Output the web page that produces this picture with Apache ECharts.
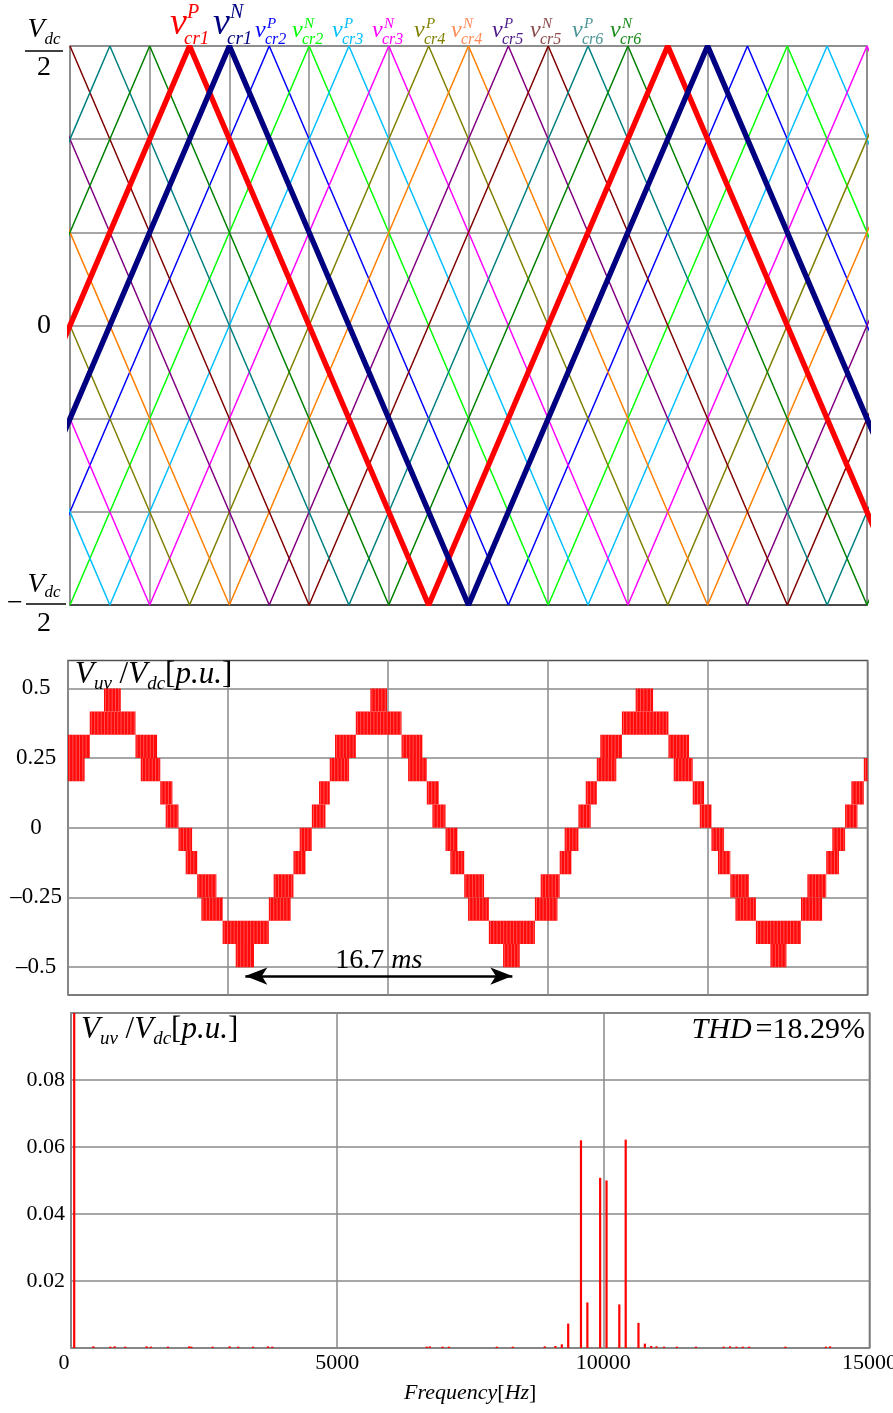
<!DOCTYPE html>
<html><head><meta charset="utf-8">
<script src="https://cdn.jsdelivr.net/npm/echarts@6/dist/echarts.min.js"></script>
<style>html,body{margin:0;padding:0;background:#fff}#c{width:893px;height:1413px}</style>
</head><body><div id="c"></div>
<script>
// ---------- Panel 1: phase-shifted carriers (x in grid divisions, y in units of Vdc/6) ----------
const carrierSup = ['P','N','P','N','P','N','P','N','P','N','P','N'];
const carrierSub = ['cr1','cr1','cr2','cr2','cr3','cr3','cr4','cr4','cr5','cr5','cr6','cr6'];
// x positions of the +Vdc/2 vertices and of the -Vdc/2 vertices of every carrier
const carrierPeaks = [[1.5,7.5],[2,8],[2.5,8.5],[3,9],[-2.5,3.5,9.5],[-2,4,10],[-1.5,4.5,10.5],[-1,5,11],[-0.5,5.5,11.5],[0,6,12],[0.5,6.5,12.5],[1,7,13]];
const carrierTroughs = [[-1.5,4.5,10.5],[-1,5,11],[-0.5,5.5,11.5],[0,6,12],[0.5,6.5,12.5],[1,7,13],[1.5,7.5],[2,8],[2.5,8.5],[3,9],[-2.5,3.5,9.5],[-2,4,10]];
const carrierTop = 3, carrierBottom = -3;

// ---------- Panel 2: line voltage bands [t_start ms, t_end ms, lower level index] ----------
const levelStep = 1/12;   // one level = Vdc/12
const cycle1Bands = [
  [0.00,1.36,3],[0.00,1.04,2],[1.36,4.22,4],[2.25,3.30,5],[4.22,5.57,3],[4.55,5.77,2],
  [5.77,6.53,1],[6.11,6.91,0],[6.91,7.76,-1],[7.36,8.08,-2],[8.08,9.28,-3],[8.34,9.67,-4],
  [9.67,12.56,-5],[10.49,11.63,-6],[12.56,13.93,-4],[12.86,14.10,-3],[14.10,14.85,-2],
  [14.49,15.25,-1],[15.25,16.10,0],[15.70,16.37,1],[16.37,17.58,2],[16.70,18.00,3]];
const cycle2Bands = [
  [18.00,20.86,4],[18.91,19.95,5],[20.86,22.16,3],[21.27,22.44,2],[22.44,23.18,1],[22.79,23.61,0],
  [23.61,24.35,-1],[23.91,24.78,-2],[24.78,26.02,-3],[25.02,26.32,-4],[26.32,29.20,-5],[27.21,28.25,-6],
  [29.20,30.61,-4],[29.56,30.75,-3],[30.75,31.48,-2],[31.06,31.92,-1],[31.92,32.69,0],[32.38,33.07,1],
  [33.07,34.29,2],[33.29,34.64,3]];
const cycle3Bands = [
  [34.64,37.55,4],[35.50,36.59,5],[37.55,38.84,3],[37.88,39.07,2],[39.07,39.78,1],[39.51,40.24,0],
  [40.24,41.03,-1],[40.65,41.42,-2],[41.42,42.59,-3],[41.74,43.02,-4],[43.02,45.84,-5],[43.93,44.93,-6],
  [45.84,47.16,-4],[46.24,47.42,-3],[47.42,48.22,-2],[47.80,48.60,-1],[48.60,49.37,0],[48.99,49.77,1],
  [49.77,50.00,2]];
const voltTicks = [-0.5,-0.25,0,0.25,0.5];
const periodArrow = [11.09, 27.79];  // ms, one fundamental period
const periodArrowLevel = -0.532;
const periodText = '16.7';

// ---------- Panel 3: spectrum ----------
const specFreq = [60,420,740,820,1020,1420,1500,1820,2220,2260,2660,2980,3140,3420,3700,3780,
  6680,6740,6980,7100,8000,8300,8900,9100,9220,9340,9580,9700,9940,10060,10300,10420,10660,10780,
  10900,11000,11140,11380,11740,12260,12380,12500,12620,12740,13420,14180,14260];
const specAmp = [0.47,0.0005,0.0004,0.0005,0.0004,0.0005,0.0004,0.0004,0.0005,0.0004,0.0004,0.0005,0.0004,0.0004,0.0005,0.0004,
  0.0004,0.0005,0.0004,0.0004,0.0004,0.0004,0.0005,0.0006,0.0011,0.0073,0.0620,0.0136,0.0508,0.0500,0.0130,0.0622,0.0075,0.0013,
  0.0006,0.0005,0.0004,0.0004,0.0004,0.0004,0.0005,0.0004,0.0004,0.0004,0.0004,0.0004,0.0005];
const thdText = '18.29%';

// ---------- styles / layout ----------
const F = '"Liberation Serif", "Times New Roman", serif';
const carrierColors = ['#ff0000','#000080','#0000ff','#00ff00','#00bfff','#ff00ff','#808000','#ff8000','#800080','#800000','#008080','#008000'];
const legendColors = ['#ff0000','#000080','#0000ff','#00ff00','#00bfff','#ff00ff','#808000','#ff8c5a','#4b1a8a','#8b4a4a','#4a9494','#1a8a1a'];
const legendX = [170,213,255,292,332,372,414,451,492,530,572,610];
const gridGray = '#8a8a8a';

const chart = echarts.init(document.getElementById('c'), null, {renderer:'canvas'});

function carrierPoints(i){
  const pts = carrierPeaks[i].map(x=>[x,carrierTop]).concat(carrierTroughs[i].map(x=>[x,carrierBottom]));
  pts.sort((a,b)=>a[0]-b[0]);
  return pts;
}
const carrierSeries = [];
const order = [2,3,4,5,6,7,8,9,10,11,0,1];
order.forEach(i=>{
  carrierSeries.push({type:'line', xAxisIndex:0, yAxisIndex:0, data:carrierPoints(i), symbol:'none', clip:true, silent:true,
    lineStyle:{color:carrierColors[i], width: i<2?5.5:1.5}, z: i<2?3:2});
});

const bandData = cycle1Bands.concat(cycle2Bands, cycle3Bands).map(b=>[b[0], b[1], b[2]*levelStep, (b[2]+1)*levelStep]);

function renderBand(params, api){
  const a = api.coord([api.value(0), api.value(3)]);
  const b = api.coord([api.value(1), api.value(2)]);
  const x0=a[0], y0=a[1], w=b[0]-a[0], h=b[1]-a[1];
  const ch = [{type:'rect', shape:{x:x0,y:y0,width:w,height:h}, style:{fill:'#ff0a0a'}}];
  for (let x=x0+1.6; x<x0+w-0.5; x+=3.3) {
    ch.push({type:'line', shape:{x1:x,y1:y0,x2:x,y2:y0+h}, style:{stroke:'rgba(255,150,150,0.55)', lineWidth:0.9}});
  }
  return {type:'group', children:ch};
}

const legendEls = [];
carrierSup.forEach((s,i)=>{
  const big = i<2, x = legendX[i], col = legendColors[i];
  const base = {textAlign:'left', textVerticalAlign:'middle', align:'left', verticalAlign:'middle', fill:col};
  legendEls.push({type:'text', x:x, y: big?24:31, style:Object.assign({text:'v', font:`italic ${big?38:24}px ${F}`}, base)});
  legendEls.push({type:'text', x:x+(big?17:12), y: big?13:24, style:Object.assign({text:s, font:`italic ${big?20:15}px ${F}`}, base)});
  legendEls.push({type:'text', x:x+(big?14:10), y: big?38.5:40, style:Object.assign({text:carrierSub[i], font:`italic ${big?19:16}px ${F}`}, base)});
});

const titleRich = {
  V:{fontFamily:F, fontStyle:'italic', fontWeight:'normal', fontSize:31, lineHeight:36, color:'#000'},
  s:{fontFamily:F, fontStyle:'italic', fontWeight:'normal', fontSize:19, lineHeight:19, verticalAlign:'bottom', color:'#000'},
  n:{fontFamily:F, fontWeight:'normal', fontSize:31, lineHeight:36, color:'#000'},
  i:{fontFamily:F, fontStyle:'italic', fontWeight:'normal', fontSize:31, lineHeight:36, color:'#000'},
  t:{fontFamily:F, fontWeight:'normal', fontSize:30, lineHeight:36, color:'#000', padding:[0,0,0,4]},
  ti:{fontFamily:F, fontStyle:'italic', fontWeight:'normal', fontSize:30, lineHeight:36, color:'#000'}
};
const titleStyle = {fontWeight:'normal', fontFamily:F, rich:titleRich};
const voltTitle = '{V|V}{s|uv}{n| /}{V|V}{s|dc}{n|[}{i|p.u.}{n|]}';

const option = {
  animation:false,
  backgroundColor:'#fff',
  title:[
    {left:75, top:657, padding:0, text:voltTitle, textStyle:titleStyle},
    {left:81, top:1012, padding:0, text:voltTitle, textStyle:titleStyle},
    {right:28, top:1012, padding:0, text:'{ti|THD}{t|=' + thdText + '}', textStyle:titleStyle}
  ],
  grid:[
    {left:70, top:46, width:797, height:559, show:true, borderColor:'#7a7a7a', borderWidth:1.5, backgroundColor:'transparent', containLabel:false, outerBoundsMode:'none'},
    {left:68, top:660.5, width:799.5, height:334.5, show:true, borderColor:'#505050', borderWidth:1.5, backgroundColor:'transparent', containLabel:false, outerBoundsMode:'none'},
    {left:71, top:1013, width:798.5, height:335, show:true, borderColor:'#505050', borderWidth:1.5, backgroundColor:'transparent', containLabel:false, outerBoundsMode:'none'}
  ],
  xAxis:[
    {type:'value', gridIndex:0, min:0, max:10, interval:1, axisLabel:{show:false}, axisTick:{show:false},
      axisLine:{show:true, onZero:false, lineStyle:{color:'#333', width:1.5}}, splitLine:{show:true, lineStyle:{color:gridGray, width:1.5}}},
    {type:'value', gridIndex:1, min:0, max:50, interval:10, axisLabel:{show:false}, axisTick:{show:false},
      axisLine:{show:false}, splitLine:{show:true, lineStyle:{color:gridGray, width:1.5}}},
    {type:'value', gridIndex:2, min:0, max:15000, interval:5000, axisTick:{show:false},
      axisLine:{show:false}, splitLine:{show:true, lineStyle:{color:gridGray, width:1.5}},
      axisLabel:{margin:4, fontFamily:F, fontSize:22, color:'#000', hideOverlap:false,
        formatter:v=> v===0 ? '{z|0}' : String(v), rich:{z:{fontFamily:F, fontSize:22, color:'#000', padding:[0,14,0,0]}}},
      name:'{i|Frequency}{n|[}{i|Hz}{n|]}', nameLocation:'middle', nameGap:34,
      nameTextStyle:{rich:{i:{fontFamily:F, fontStyle:'italic', fontSize:22, color:'#000'}, n:{fontFamily:F, fontSize:22, color:'#000'}}}}
  ],
  yAxis:[
    {type:'value', gridIndex:0, min:-3, max:3, interval:1, axisTick:{show:false}, axisLine:{show:false},
      splitLine:{show:true, lineStyle:{color:gridGray, width:1.5}},
      axisLabel:{align:'center', margin:26, color:'#000',
        formatter:v=> v===3 ? '{V|V}{sub|dc}\n{bar|}\n{two|2}' : v===-3 ? '{Vb|V}{sub|dc}\n{minus|\u2212}{bar2|}{pad|}\n{twob|2}' : v===0 ? '{zero|0}' : '',
        rich:{
          V:{fontFamily:F, fontStyle:'italic', fontSize:28, lineHeight:37, color:'#000'},
          Vb:{fontFamily:F, fontStyle:'italic', fontSize:28, lineHeight:32, color:'#000'},
          sub:{fontFamily:F, fontStyle:'italic', fontSize:17, lineHeight:17, verticalAlign:'bottom', color:'#000'},
          bar:{width:38, height:1.6, lineHeight:6, backgroundColor:'#000'},
          bar2:{width:40, height:1.6, lineHeight:6, backgroundColor:'#000'},
          minus:{fontFamily:F, fontSize:28, width:22, lineHeight:6, color:'#000'},
          pad:{width:18, height:1, lineHeight:6},
          two:{fontFamily:F, fontSize:28, lineHeight:27, color:'#000'},
          twob:{fontFamily:F, fontSize:28, lineHeight:34, color:'#000'},
          zero:{fontFamily:F, fontSize:28, color:'#000'}
        }}},
    {type:'value', gridIndex:1, min:-0.6, max:0.6, axisLine:{show:false},
      axisTick:{show:false, customValues:voltTicks},
      splitLine:{show:true, customValues:voltTicks, lineStyle:{color:gridGray, width:1.5}},
      axisLabel:{customValues:voltTicks, align:'center', margin:32, padding:[8,0,0,0], fontFamily:F, fontSize:23, color:'#000',
        formatter:v=> (v<0?'\u2013':'') + String(Math.abs(v))}},
    {type:'value', gridIndex:2, min:0, max:0.1, interval:0.02, axisTick:{show:false}, axisLine:{show:false},
      splitLine:{show:true, lineStyle:{color:gridGray, width:1.5}},
      axisLabel:{margin:6, padding:[5,0,0,0], fontFamily:F, fontSize:22, color:'#000',
        formatter:v=> (v>0.001 && v<0.09) ? v.toFixed(2) : ''}}
  ],
  graphic:{elements:legendEls},
  series: carrierSeries.concat([
    {type:'custom', xAxisIndex:1, yAxisIndex:1, data:bandData, renderItem:renderBand, encode:{x:[0,1], y:[2,3]}, clip:true, silent:true},
    {type:'line', xAxisIndex:1, yAxisIndex:1, data:[], silent:true,
      markLine:{silent:true, symbol:['arrow','arrow'], symbolSize:[13,22], animation:false,
        lineStyle:{color:'#000', width:2.5, type:'solid'},
        label:{show:true, position:'insideMiddleTop', distance:1, formatter:'{n|' + periodText + ' }{i|ms}',
          rich:{n:{fontFamily:F, fontSize:28, color:'#000'}, i:{fontFamily:F, fontStyle:'italic', fontSize:28, color:'#000'}}},
        data:[[{coord:[periodArrow[0], periodArrowLevel]}, {coord:[periodArrow[1], periodArrowLevel]}]]}},
    {type:'bar', xAxisIndex:2, yAxisIndex:2, data:specFreq.map((f,i)=>[f, specAmp[i]]), barWidth:2.2, silent:true,
      itemStyle:{color:'#ff0000'}}
  ])
};
chart.setOption(option);
</script></body></html>
